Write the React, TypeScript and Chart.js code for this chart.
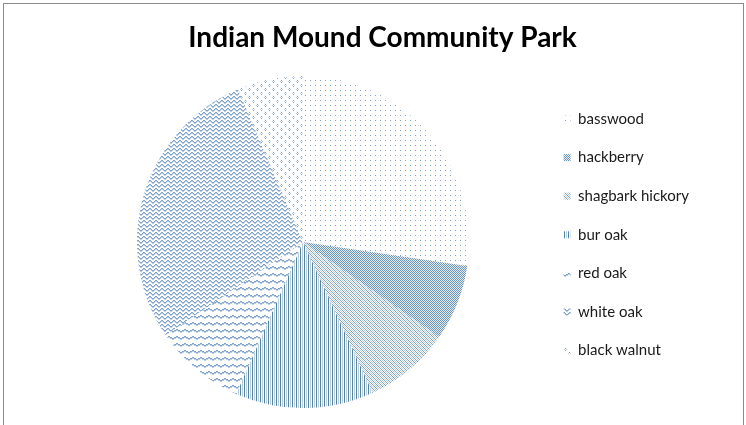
import React, { useEffect, useRef } from "react";
import { Chart, registerables } from "chart.js";

Chart.register(...registerables);

const title = "Indian Mound Community Park";
const categories = ["basswood", "hackberry", "shagbark hickory", "bur oak", "red oak", "white oak", "black walnut"];
const values = [27.3, 7.4, 8.4, 13.5, 8.9, 28.1, 6.4];

const DARK = "#4F81BD";
const MID = "#7FA3D1";
const LIGHT = "#B9CDE5";

type Px = [number, number, string];

function makePattern(w: number, h: number, pixels: Px[]): CanvasPattern | string {
  const c = document.createElement("canvas");
  c.width = w;
  c.height = h;
  const ctx = c.getContext("2d");
  if (!ctx) return DARK;
  ctx.fillStyle = "#ffffff";
  ctx.fillRect(0, 0, w, h);
  for (const [x, y, col] of pixels) {
    ctx.fillStyle = col;
    ctx.fillRect(x, y, 1, 1);
  }
  const p = ctx.createPattern(c, "repeat");
  return p || DARK;
}

function buildPatterns() {
  // basswood: sparse dots
  const bass = makePattern(5, 5, [[0, 0, MID]]);
  // hackberry: 50% checker
  const hack = makePattern(2, 2, [[0, 0, "#6A93C8"], [1, 1, "#6A93C8"], [1, 0, "#E4ECF6"], [0, 1, "#E4ECF6"]]);
  // shagbark: downward diagonal
  const shagPx: Px[] = [];
  for (let i = 0; i < 4; i++) {
    shagPx.push([i, i, MID]);
    shagPx.push([(i + 2) % 4, i, LIGHT]);
  }
  const shag = makePattern(4, 4, shagPx);
  // bur oak: vertical lines
  const bur = makePattern(4, 1, [[0, 0, DARK], [2, 0, LIGHT]]);
  // red oak: sparse zigzag rows
  const redPx: Px[] = [];
  const ry = [0, 0, 1, 1, 2, 2, 1, 1];
  for (let x = 0; x < 8; x++) {
    redPx.push([x, ry[x], MID]);
    redPx.push([x, ry[x] + 1, LIGHT]);
  }
  const red = makePattern(8, 7, redPx);
  // white oak: dense wave
  const whitePx: Px[] = [];
  const wy = [0, 1, 2, 2, 1, 0];
  for (let x = 0; x < 6; x++) {
    whitePx.push([x, wy[x], MID]);
    whitePx.push([x, (wy[x] + 1) % 4, LIGHT]);
  }
  const white = makePattern(6, 4, whitePx);
  // black walnut: small diamonds
  const bw = makePattern(8, 8, [
    [1, 0, MID], [0, 1, LIGHT], [2, 1, LIGHT], [1, 2, MID],
    [5, 4, MID], [4, 5, LIGHT], [6, 5, LIGHT], [5, 6, MID],
  ]);
  return [bass, hack, shag, bur, red, white, bw];
}

export default function App() {
  const ref = useRef<HTMLCanvasElement | null>(null);
  useEffect(() => {
    if (!ref.current) return;
    const patterns = buildPatterns();
    const chart = new Chart(ref.current, {
      type: "pie",
      data: {
        labels: categories,
        datasets: [
          {
            data: values,
            backgroundColor: patterns as any,
            borderWidth: 0,
          },
        ],
      },
      options: {
        responsive: false,
        animation: false,
        devicePixelRatio: 1,
        layout: { padding: { left: 66, right: 47, top: 0, bottom: 17 } },
        plugins: {
          title: {
            display: true,
            text: title,
            color: "#000000",
            font: { family: "Lato, 'Liberation Sans', sans-serif", size: 28, weight: "bold" },
            padding: { top: 21, bottom: 21.4 },
          },
          legend: {
            display: true,
            position: "right",
            title: {
              display: true,
              text: " ",
              font: { size: 10 },
              padding: { top: 0, bottom: 49.6 },
            },
            labels: {
              boxWidth: 7,
              boxHeight: 7,
              padding: 23.6,
              color: "#1a1a1a",
              font: { family: "Lato, 'Liberation Sans', sans-serif", size: 15 },
            },
          },
          tooltip: { enabled: false },
        },
      },
    });
    return () => chart.destroy();
  }, []);
  return (
    <div style={{ position: "absolute", left: 0, top: 0, width: 746, height: 425, background: "#fff", overflow: "hidden" }}>
      <canvas ref={ref} width={746} height={425} style={{ display: "block", width: 746, height: 425 }} />
      <div
        style={{
          position: "absolute",
          left: 3,
          top: 3,
          width: 739,
          height: 440,
          border: "1px solid #8c8c8c",
          pointerEvents: "none",
        }}
      />
    </div>
  );
}
